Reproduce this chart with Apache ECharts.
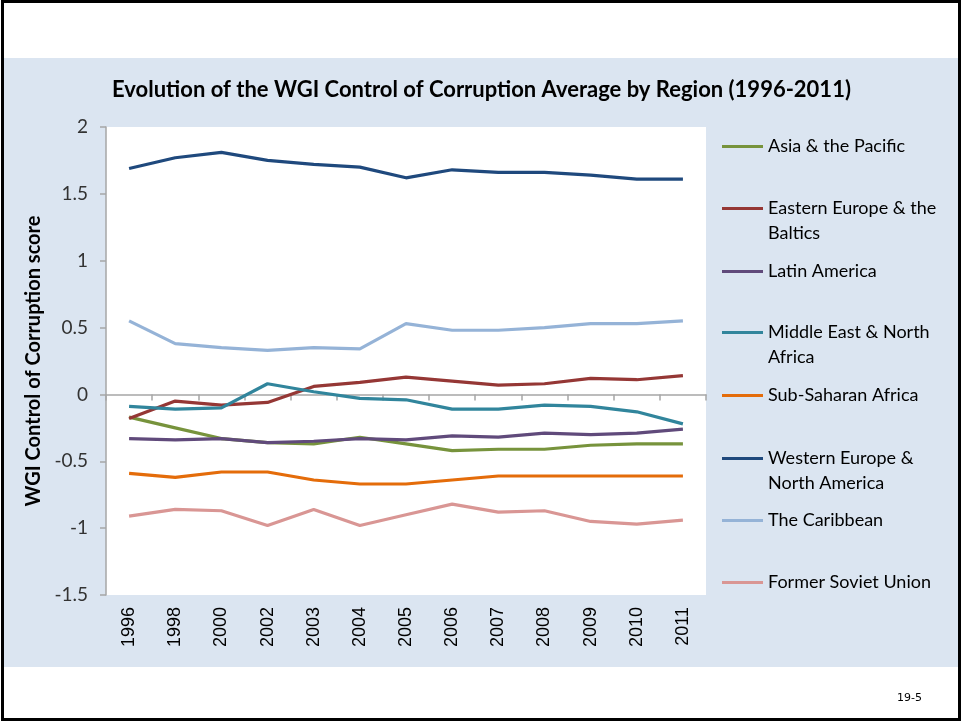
<!DOCTYPE html>
<html>
<head>
<meta charset="utf-8">
<title>WGI Control of Corruption</title>
<script src="https://cdn.jsdelivr.net/npm/echarts@6/dist/echarts.min.js"></script>
<style>
    html, body { margin: 0; padding: 0; background: #fff; }
    #chart { width: 963px; height: 722px; }
</style>
</head>
<body>
<div id="chart"></div>
<script>
var years = ['1996', '1998', '2000', '2002', '2003', '2004', '2005', '2006', '2007', '2008', '2009', '2010', '2011'];

var asiaPacific = [-0.17, -0.25, -0.33, -0.36, -0.37, -0.32, -0.37, -0.42, -0.41, -0.41, -0.38, -0.37, -0.37];
var easternEurope = [-0.18, -0.05, -0.08, -0.06, 0.06, 0.09, 0.13, 0.10, 0.07, 0.08, 0.12, 0.11, 0.14];
var latinAmerica = [-0.33, -0.34, -0.33, -0.36, -0.35, -0.33, -0.34, -0.31, -0.32, -0.29, -0.30, -0.29, -0.26];
var middleEast = [-0.09, -0.11, -0.10, 0.08, 0.02, -0.03, -0.04, -0.11, -0.11, -0.08, -0.09, -0.13, -0.22];
var subSaharan = [-0.59, -0.62, -0.58, -0.58, -0.64, -0.67, -0.67, -0.64, -0.61, -0.61, -0.61, -0.61, -0.61];
var westernEurope = [1.69, 1.77, 1.81, 1.75, 1.72, 1.70, 1.62, 1.68, 1.66, 1.66, 1.64, 1.61, 1.61];
var caribbean = [0.55, 0.38, 0.35, 0.33, 0.35, 0.34, 0.53, 0.48, 0.48, 0.50, 0.53, 0.53, 0.55];
var formerSoviet = [-0.91, -0.86, -0.87, -0.98, -0.86, -0.98, -0.90, -0.82, -0.88, -0.87, -0.95, -0.97, -0.94];

var regionNames = ['Asia & the Pacific', 'Eastern Europe & the Baltics', 'Latin America',
    'Middle East & North Africa', 'Sub-Saharan Africa', 'Western Europe & North America',
    'The Caribbean', 'Former Soviet Union'];
// how the legend wraps the long names
var legendLabels = ['Asia & the Pacific', 'Eastern Europe & the\nBaltics', 'Latin America',
    'Middle East & North\nAfrica', 'Sub-Saharan Africa', 'Western Europe &\nNorth America',
    'The Caribbean', 'Former Soviet Union'];
var regionValues = [asiaPacific, easternEurope, latinAmerica, middleEast, subSaharan, westernEurope, caribbean, formerSoviet];
var regionColors = ['#77933C', '#953735', '#604A7B', '#31859C', '#E46C0A', '#1F497D', '#95B3D7', '#D99694'];
var legendRows = [147, 209, 272, 333, 396, 459, 521, 583];

var titleFont = 'Lato, "Open Sans", sans-serif';

function buildSeries() {
    var list = [];
    for (var i = 0; i < regionNames.length; i++) {
        list.push({
            name: regionNames[i],
            type: 'line',
            xAxisIndex: 0,
            data: regionValues[i],
            showSymbol: false,
            symbol: 'none',
            lineStyle: {width: 3.2, color: regionColors[i]},
            itemStyle: {color: regionColors[i]},
            emphasis: {disabled: true},
            z: 2 + i
        });
    }
    return list;
}

function buildLegends() {
    var list = [];
    for (var i = 0; i < regionNames.length; i++) {
        var label = legendLabels[i];
        var twoLines = label.indexOf('\n') >= 0;
        // an empty first line keeps the icon level with the first text line
        if (twoLines) {
            label = ' \n' + label;
        }
        list.push({
            orient: 'vertical',
            left: 722,
            top: twoLines ? legendRows[i] - 38 : legendRows[i] - 13,
            padding: 0,
            icon: 'rect',
            itemWidth: 41,
            itemHeight: 3,
            selectedMode: false,
            data: [{name: regionNames[i], itemStyle: {color: regionColors[i]}}],
            formatter: (function (txt) {
                return function () { return txt; };
            })(label),
            textStyle: {fontFamily: titleFont, fontSize: 18, lineHeight: 25, color: '#000'}
        });
    }
    return list;
}

var dom = document.getElementById('chart');
var myChart = echarts.init(dom, null, {renderer: 'canvas'});

var option = {
    backgroundColor: '#fff',
    animation: false,
    graphic: [
        {
            type: 'rect', z: -10, silent: true,
            shape: {x: 4, y: 58, width: 954, height: 609},
            style: {fill: '#DBE5F1'}
        },
        {
            type: 'rect', z: -9, silent: true,
            shape: {x: 106, y: 127, width: 600, height: 468},
            style: {fill: '#fff'}
        },
        {
            type: 'rect', z: 100, silent: true,
            shape: {x: 2.5, y: 1.5, width: 957, height: 718},
            style: {fill: 'none', stroke: '#000', lineWidth: 3}
        }
    ],
    title: [
        {
            text: 'Evolution of the WGI Control of Corruption Average by Region (1996-2011)',
            left: 'center',
            top: 79,
            padding: 0,
            textStyle: {fontFamily: titleFont, fontSize: 22, fontWeight: 'bold', color: '#000'}
        },
        {
            text: '19-5',
            left: 897,
            top: 693,
            padding: 0,
            textStyle: {fontFamily: '"DejaVu Sans", sans-serif', fontSize: 11, fontWeight: 'normal', color: '#000'}
        }
    ],
    legend: buildLegends(),
    grid: {
        left: 106,
        right: 257,
        top: 127,
        bottom: 127,
        containLabel: false
    },
    xAxis: [
        {
            type: 'category',
            position: 'bottom',
            data: years,
            boundaryGap: true,
            axisLine: {show: false, onZero: false},
            axisTick: {show: false},
            axisLabel: {
                rotate: 90,
                margin: 12,
                fontFamily: '"Liberation Sans", Arial, sans-serif',
                fontSize: 18,
                color: '#000'
            },
            splitLine: {show: false}
        },
        {
            type: 'category',
            position: 'top',
            data: years,
            boundaryGap: true,
            axisLine: {show: true, onZero: true, lineStyle: {color: '#A6A6A6', width: 1.5}},
            axisTick: {show: true, inside: true, length: 6, lineStyle: {color: '#A6A6A6', width: 1.5}},
            axisLabel: {show: false},
            splitLine: {show: false}
        }
    ],
    yAxis: {
        type: 'value',
        min: -1.5,
        max: 2,
        interval: 0.5,
        name: 'WGI Control of Corruption score',
        nameLocation: 'middle',
        nameRotate: 90,
        nameGap: 58,
        nameTextStyle: {fontFamily: titleFont, fontSize: 20, fontWeight: 'bold', color: '#000'},
        axisLine: {show: true, lineStyle: {color: '#A6A6A6', width: 1.5}},
        axisTick: {show: true, length: 6, lineStyle: {color: '#A6A6A6', width: 1.5}},
        axisLabel: {margin: 18, fontFamily: titleFont, fontSize: 19, color: '#333'},
        splitLine: {show: false}
    },
    series: buildSeries()
};

if (option && typeof option === 'object') {
    myChart.setOption(option, true);
}
</script>
</body>
</html>
